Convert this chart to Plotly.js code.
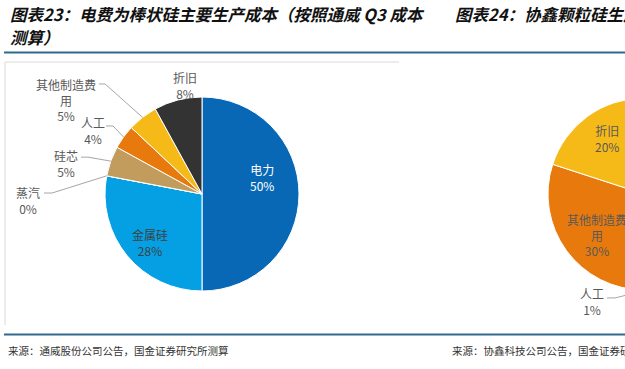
<!DOCTYPE html>
<html><head><meta charset="utf-8">
<script src="https://cdn.plot.ly/plotly-3.0.1.min.js"></script>
<style>
html,body{margin:0;padding:0;overflow:hidden;background:#fff;width:625px;height:369px}
#chart{width:760px;height:369px}
</style>
</head><body><div id="chart"></div>
<script>
// ---------- data ----------
// 图表23 (left, fully visible)
const leftLabels = ["电力","金属硅","蒸汽","硅芯","人工","其他制造费用","折旧"];
const leftValues = [50, 28, 0, 5, 4, 5, 8];
// 图表24 (right, only its left part is visible)
const rightLabels = ["电力","金属硅","人工","其他制造费用","折旧"];
const rightValues = [29, 20, 1, 30, 20];

const leftTitle1 = "图表23：电费为棒状硅主要生产成本（按照通威 Q3 成本";
const leftTitle2 = "测算）";
const rightTitle = "图表24：协鑫颗粒硅生产";
const leftSource = "来源：通威股份公司公告，国金证券研究所测算";
const rightSource = "来源：协鑫科技公司公告，国金证券研究所";

// ---------- styles / positions ----------
const W = 760, H = 369;
const leftColors = ["#0868b5","#05a0e3","#a5a5a5","#c29c5c","#e8790c","#f6ba18","#333333"];
const rightColors = ["#0868b5","#05a0e3","#333333","#e8790c","#f6ba18"];
const leftPie = {cx:202, cy:194, r:97};
const rightPie = {cx:644, cy:194, r:96};
const LBL = "#595959";
const leftPos = {
  "电力":        {inside:true, dx:-3,  dy:-17, color:"#ffffff"},
  "金属硅":      {inside:true, dx:-3.5,dy:8.8, color:"#404040"},
  "蒸汽":        {dx:-78.7, dy:24.2, knee:[-54.7,17.2], end:[-62.7,17.2]},
  "硅芯":        {dx:-44.7, dy:2,    knee:[-22.7,-4],   end:[-29.7,-4]},
  "人工":        {dx:-30.5, dy:-6,   knee:[-10.5,-11],  end:[-17.5,-11]},
  "其他制造费用":{dx:-76.5, dy:-17.4,knee:[-37.5,-33.4],end:[-43.5,-33.4]},
  "折旧":        {dx:7,     dy:-15}
};
const rightPos = {
  "电力":        {hide:true},
  "金属硅":      {hide:true},
  "人工":        {dx:-55, dy:12, knee:[-32,8], end:[-40,8]},
  "其他制造费用":{inside:true, dx:3.5, dy:4.3, color:LBL},
  "折旧":        {inside:true, dx:-0.3, dy:-5.5, color:LBL}
};

const px = x => x / W;
const py = y => 1 - y / H;
const wrap = s => s.length > 5 ? s.slice(0,5) + "<br>" + s.slice(5) : s;
const FONT = "Noto Sans CJK SC, Noto Sans, sans-serif";

function pieTrace(labels, values, colors, g){
  return {
    type:"pie", labels:labels, values:values, sort:false, direction:"clockwise", rotation:0,
    marker:{colors:colors, line:{color:"#ffffff", width:1}},
    textinfo:"none", hoverinfo:"skip", showlegend:false,
    domain:{x:[px(g.cx-g.r), px(g.cx+g.r)], y:[py(g.cy+g.r), py(g.cy-g.r)]}
  };
}

const annotations = [];
const shapes = [];
function addLabels(labels, values, g, pos){
  const total = values.reduce((a,b)=>a+b,0);
  let cum = 0;
  labels.forEach((lab,i)=>{
    const v = values[i];
    const th = (cum + v/2) / total * 2 * Math.PI;
    cum += v;
    const p = pos[lab];
    if (!p || p.hide) return;
    const ux = Math.sin(th), uy = -Math.cos(th);
    const base = p.inside ? [g.cx + 0.65*g.r*ux, g.cy + 0.65*g.r*uy]
                          : [g.cx + g.r*ux, g.cy + g.r*uy];
    const text = wrap(lab) + "<br>" + Math.round(v/total*100) + "%";
    annotations.push({
      xref:"paper", yref:"paper", x:px(base[0]+p.dx), y:py(base[1]+p.dy),
      xanchor:"center", yanchor:"middle", showarrow:false, align:"center",
      text:text, font:{family:FONT, size:12, color:p.color || LBL}
    });
    if (p.knee){
      const k = [base[0]+p.knee[0], base[1]+p.knee[1]];
      const e = [base[0]+p.end[0], base[1]+p.end[1]];
      shapes.push({type:"path", xref:"paper", yref:"paper",
        path:`M${px(base[0])},${py(base[1])} L${px(k[0])},${py(k[1])} L${px(e[0])},${py(e[1])}`,
        line:{color:"#a6a6a6", width:1}});
    }
  });
}
addLabels(leftLabels, leftValues, leftPie, leftPos);
addLabels(rightLabels, rightValues, rightPie, rightPos);

// frame lines
const RULE = "#2f6a8c";
shapes.push({type:"line", xref:"paper", yref:"paper", x0:px(4), x1:1, y0:py(52.5), y1:py(52.5), line:{color:RULE, width:2}});
shapes.push({type:"line", xref:"paper", yref:"paper", x0:px(4), x1:1, y0:py(334.5), y1:py(334.5), line:{color:RULE, width:2}});
shapes.push({type:"line", xref:"paper", yref:"paper", x0:px(5), x1:px(399), y0:py(62), y1:py(62), line:{color:"#d9d9d9", width:1}});
shapes.push({type:"line", xref:"paper", yref:"paper", x0:px(5), x1:px(5), y0:py(62), y1:py(325), line:{color:"#d9d9d9", width:1}});

const titleFont = {family:FONT, size:16.5, color:"#111111", style:"italic", weight:"bold"};
const srcFont = {family:FONT, size:10.5, color:"#333333"};
[[leftTitle1, 8, 14, titleFont],[leftTitle2, 8, 37, titleFont],[rightTitle, 453, 14, titleFont],
 [leftSource, 6, 350, srcFont],[rightSource, 450, 350, srcFont]].forEach(t=>{
  annotations.push({xref:"paper", yref:"paper", x:px(t[1]), y:py(t[2]), xanchor:"left", yanchor:"middle",
    showarrow:false, text:t[0], font:t[3]});
});

Plotly.newPlot("chart", [pieTrace(leftLabels,leftValues,leftColors,leftPie), pieTrace(rightLabels,rightValues,rightColors,rightPie)], {
  width:W, height:H, margin:{l:0,r:0,t:0,b:0}, paper_bgcolor:"#ffffff", plot_bgcolor:"#ffffff",
  showlegend:false, annotations:annotations, shapes:shapes
}, {staticPlot:true, displayModeBar:false});
</script>
</body></html>
